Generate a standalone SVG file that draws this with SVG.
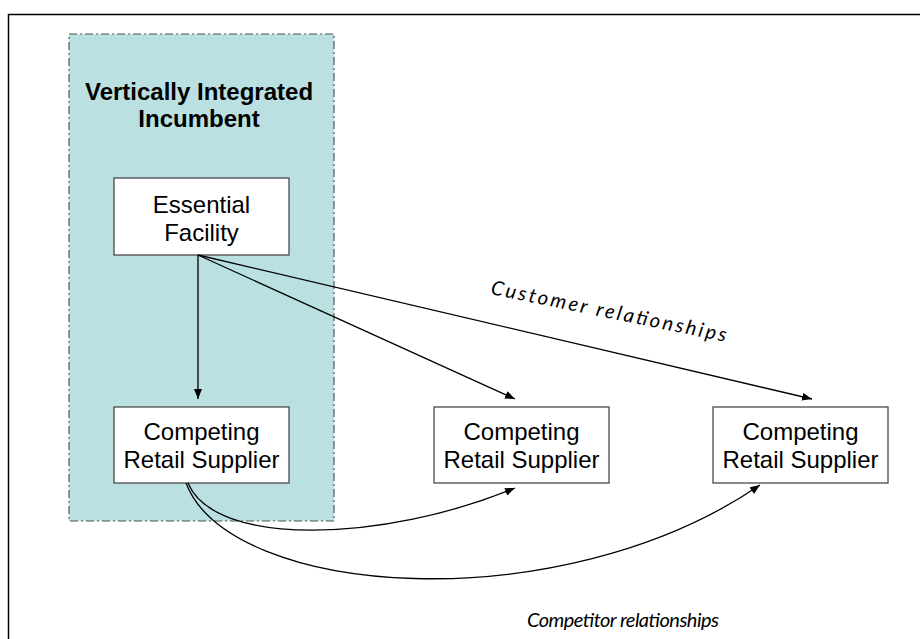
<svg xmlns="http://www.w3.org/2000/svg" width="920" height="639" viewBox="0 0 920 639">
<style>
.node{fill:#ffffff;stroke:#4a4a4a;stroke-width:1.3}
.lbl{font-family:"Liberation Sans",Arial,sans-serif;font-size:24px;fill:#000;text-anchor:middle}
.ttl{font-family:"Liberation Sans",Arial,sans-serif;font-size:24px;font-weight:bold;fill:#000;text-anchor:middle}
.rel{font-family:Lato,"Open Sans",sans-serif;font-style:italic;font-size:20px;fill:#000}
.edge{fill:none;stroke:#000;stroke-width:1.3}
</style>
<defs>
<marker id="ah" viewBox="0 0 10 8" refX="10" refY="4" markerWidth="10" markerHeight="8" markerUnits="userSpaceOnUse" orient="auto">
<path d="M0,0 L10,4 L0,8 Z" fill="#000"/>
</marker>
</defs>
<rect width="920" height="639" fill="#ffffff"/>
<path d="M8.5,639 L8.5,14.5 L920,14.5" fill="none" stroke="#000" stroke-width="1.5"/>
<g id="incumbent">
<rect x="69" y="34" width="265" height="487" fill="#bae0e2" stroke="#555" stroke-width="1.2" stroke-dasharray="8,3,2,3"/>
<text class="ttl" x="199" y="100">Vertically Integrated</text>
<text class="ttl" x="199" y="127">Incumbent</text>
</g>
<g id="essential-facility">
<rect class="node" x="114" y="178" width="175" height="77"/>
<text class="lbl" x="201.5" y="213">Essential</text>
<text class="lbl" x="201.5" y="241">Facility</text>
</g>
<g id="supplier-1">
<rect class="node" x="114" y="407" width="175" height="76"/>
<text class="lbl" x="201.5" y="440">Competing</text>
<text class="lbl" x="201.5" y="468">Retail Supplier</text>
</g>
<g id="supplier-2">
<rect class="node" x="434" y="407" width="175" height="76"/>
<text class="lbl" x="521.5" y="440">Competing</text>
<text class="lbl" x="521.5" y="468">Retail Supplier</text>
</g>
<g id="supplier-3">
<rect class="node" x="713" y="407" width="175" height="76"/>
<text class="lbl" x="800.5" y="440">Competing</text>
<text class="lbl" x="800.5" y="468">Retail Supplier</text>
</g>
<g id="connectors">
<line class="edge" x1="198" y1="255" x2="198" y2="399" marker-end="url(#ah)"/>
<line class="edge" x1="198" y1="255" x2="515" y2="399" marker-end="url(#ah)"/>
<line class="edge" x1="198" y1="255" x2="812" y2="399" marker-end="url(#ah)"/>
<path class="edge" d="M188,483 C215,548 385,542 515,488" marker-end="url(#ah)"/>
<path class="edge" d="M186,483 C230,598 560,622 760,485" marker-end="url(#ah)"/>
</g>
<g id="labels">
<text class="rel" x="490" y="294" transform="rotate(11.5 490 294)" textLength="240" lengthAdjust="spacing">Customer relationships</text>
<text class="rel" x="527" y="627" textLength="192" lengthAdjust="spacing">Competitor relationships</text>
</g>
</svg>
